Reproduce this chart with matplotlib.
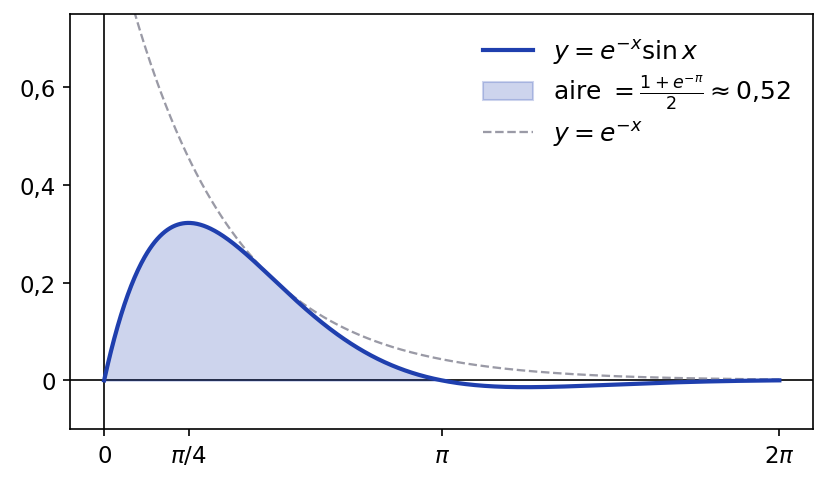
import numpy as np
import matplotlib
matplotlib.use("Agg")
import matplotlib.pyplot as plt

# Data
x_start, x_end = 0.0, 2 * np.pi
fill_end = np.pi
xtick_vals = [0, np.pi / 4, np.pi, 2 * np.pi]
xtick_labels = ["$0$", r"$\pi/4$", r"$\pi$", r"$2\pi$"]
ytick_vals = [0, 0.2, 0.4, 0.6]
ytick_labels = ["0", "0,2", "0,4", "0,6"]

x = np.linspace(x_start, x_end, 800)
y = np.exp(-x) * np.sin(x)
env = np.exp(-x)

blue = "#1f3fae"
fig, ax = plt.subplots(figsize=(5.52, 3.233), dpi=150)
ax.axhline(0, color="black", lw=0.8, zorder=1)
ax.axvline(0, color="black", lw=0.8, zorder=1)
ax.plot(x, y, color=blue, lw=2, label=r"$y=e^{-x}\sin x$", zorder=3)
mask = x <= fill_end
ax.fill_between(x[mask], 0, y[mask], color=blue, alpha=0.22,
                label=r"aire $=\frac{1+e^{-\pi}}{2}\approx 0{,}52$", zorder=2)
ax.plot(x, env, color="#9a9aa6", lw=1.1, ls="--", label=r"$y=e^{-x}$", zorder=2)

ax.set_xlim(-0.314, 2 * np.pi + 0.314)
ax.set_ylim(-0.1, 0.75)
ax.set_xticks(xtick_vals)
ax.set_xticklabels(xtick_labels)
ax.set_yticks(ytick_vals)
ax.set_yticklabels(ytick_labels)
ax.tick_params(labelsize=11)
ax.legend(frameon=False, fontsize=12, loc="upper right", labelspacing=0.3)
fig.subplots_adjust(left=0.085, right=0.982, top=0.969, bottom=0.113)
fig.savefig("out.png", dpi=150)
